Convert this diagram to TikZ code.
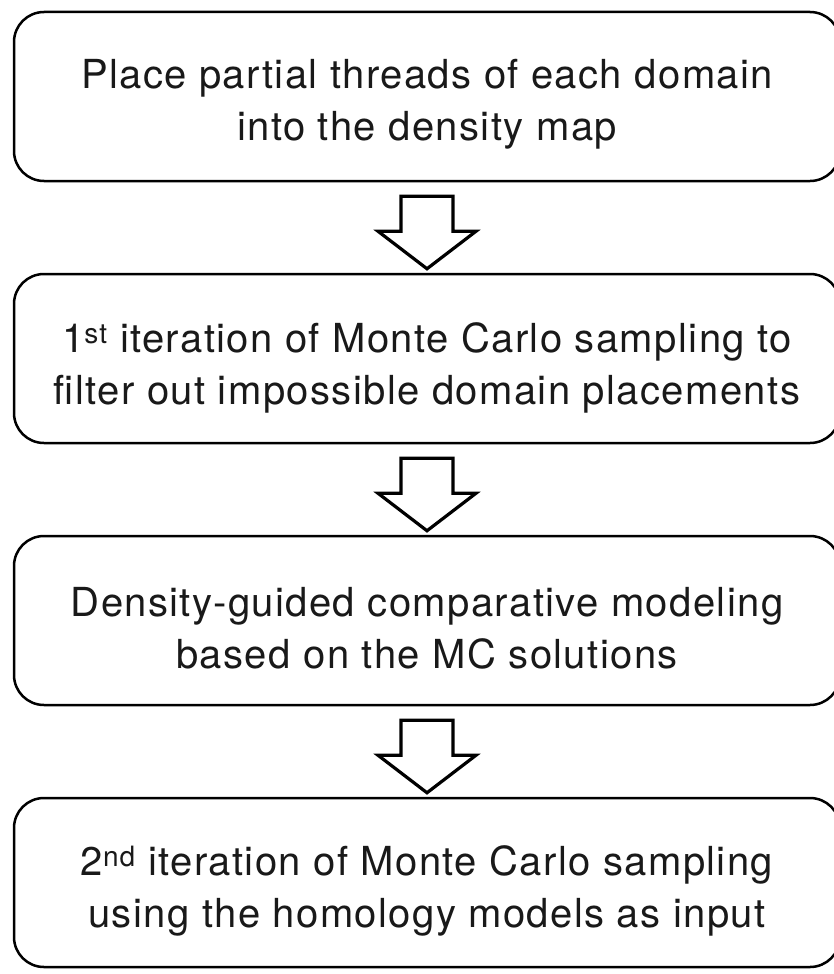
\documentclass[tikz,border=0pt]{standalone}
\usepackage{fontspec}
\setmainfont{TeX Gyre Heros}[LetterSpace=3.5]
\usetikzlibrary{calc}
\tikzset{
  stagebox/.style={draw=black, line width=2.5pt, rounded corners=30pt, minimum width=826pt, minimum height=169pt, inner sep=0pt},
  stagetext/.style={align=center, inner sep=0pt, font=\fontsize{40}{52}\selectfont, text=black!90},
  blockarrow/.style={draw=black, line width=3.2pt, fill=white, miter limit=10},
}
\begin{document}
\begin{tikzpicture}[x=1pt,y=-1pt]
\useasboundingbox (0,0) rectangle (834,974);
\node[stagebox] (b1) at (427,96.5) {};
\node[stagebox] (b2) at (427,358.5) {};
\node[stagebox] (b3) at (427,620.5) {};
\node[stagebox] (b4) at (427,882.5) {};
\node[stagetext, yshift=-8pt] (t1) at (b1) {Place partial threads of each domain\\into the density map};
\node[stagetext, yshift=-9pt] (t2) at (b2) {1\textsuperscript{st} iteration of Monte Carlo sampling to\\filter out impossible domain placements};
\node[stagetext, yshift=-8pt] (t3) at (b3) {Density-guided comparative modeling\\based on the MC solutions};
\node[stagetext, yshift=-8pt] (t4) at (b4) {2\textsuperscript{nd} iteration of Monte Carlo sampling\\using the homology models as input};
\foreach \a/\b in {b1/b2, b2/b3, b3/b4}{
  \draw[blockarrow] ($(\a.south)+(-26,14)$) -- ($(\a.south)+(26,14)$) -- ($(\a.south)+(26,49)$)
    -- ($(\a.south)+(49,49)$) -- ($(\b.north)+(0,-4)$) -- ($(\a.south)+(-49,49)$)
    -- ($(\a.south)+(-26,49)$) -- cycle;
}
\end{tikzpicture}
\end{document}
